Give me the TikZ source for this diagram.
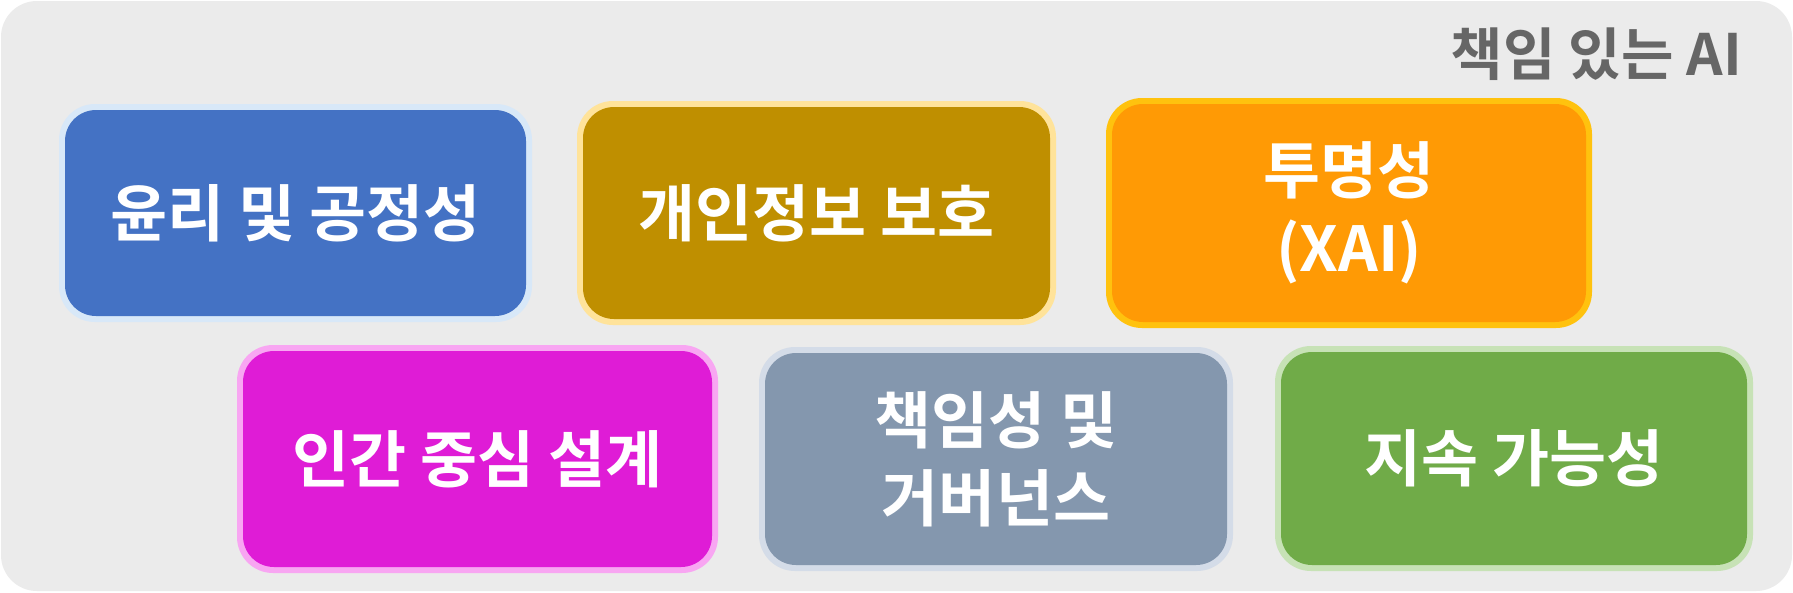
\documentclass[tikz,border=0pt]{standalone}
\usepackage{fontspec}
\newfontfamily\kr{Noto Sans CJK KR}
\newfontfamily\krb{Noto Sans CJK KR Bold}
\definecolor{bgc}{HTML}{EBEBEB}
\definecolor{titc}{HTML}{666666}
\definecolor{cblue}{HTML}{4472C4}\definecolor{hblue}{HTML}{D8E8F8}
\definecolor{cgold}{HTML}{BF8F00}\definecolor{hgold}{HTML}{FFE39A}
\definecolor{corange}{HTML}{FF9A05}\definecolor{horange}{HTML}{FFC20E}
\definecolor{cmag}{HTML}{DF1CD6}\definecolor{hmag}{HTML}{F8A6F2}
\definecolor{cgray}{HTML}{8497AE}\definecolor{hgray}{HTML}{D4DCE8}
\definecolor{cgreen}{HTML}{70AB48}\definecolor{hgreen}{HTML}{C7E2B6}
\tikzset{
  x=1pt, y=-1pt,
  boxtext/.style={text=white, font=\krb\fontsize{62}{78}\selectfont, align=center},
}
\newcommand{\mybox}[7]{% name, x1, y1, x2, y2, fill, halo
  \fill[#7, rounded corners=36] (#2,#3) rectangle (#4,#5);
  \fill[#6, rounded corners=31] (#2+6,#3+6) rectangle (#4-6,#5-6);
  \coordinate (#1) at ({(#2+#4)/2},{(#3+#5)/2});
}
\begin{document}
\begin{tikzpicture}
\useasboundingbox (0,0) rectangle (1793,592);
\fill[white] (0,0) rectangle (1793,592);
\fill[bgc, rounded corners=36] (1,1) rectangle (1792,591);
\node[anchor=east, text=titc, font=\krb\fontsize{57}{64}\selectfont, inner sep=0pt] (title) at (1742,54) {책임 있는 AI};
\mybox{b1}{59}{104}{532}{322}{cblue}{hblue}
\mybox{b2}{577}{101}{1056}{325}{cgold}{hgold}
\mybox{b3}{1106}{98}{1592}{328}{corange}{horange}
\mybox{b4}{237}{345}{718}{573}{cmag}{hmag}
\mybox{b5}{759}{347}{1233}{571}{cgray}{hgray}
\mybox{b6}{1275}{346}{1753}{571}{cgreen}{hgreen}
\node[boxtext] (t1) at (b1) {윤리 및 공정성};
\node[boxtext] (t2) at (b2) {개인정보 보호};
\node[boxtext] (t3) at (b3) {투명성\\(XAI)};
\node[boxtext] (t4) at (b4) {인간 중심 설계};
\node[boxtext] (t5) at (b5) {책임성 및\\거버넌스};
\node[boxtext] (t6) at (b6) {지속 가능성};
\end{tikzpicture}
\end{document}
